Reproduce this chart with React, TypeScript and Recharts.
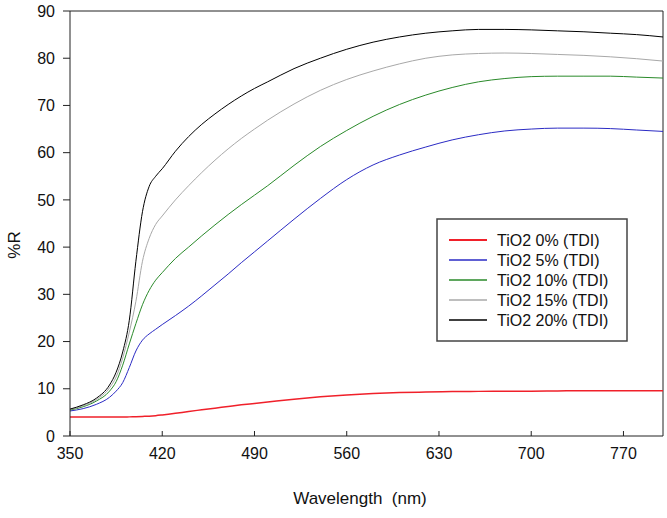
import React from "react";
import {
  LineChart,
  Line,
  XAxis,
  YAxis,
  ReferenceLine,
  Customized,
} from "recharts";

const wavelengths = [
  350, 360, 370, 380, 385, 390, 395, 400, 405, 410, 415, 420, 430, 440, 450,
  460, 470, 480, 490, 500, 520, 540, 560, 580, 600, 620, 640, 660, 680, 700,
  720, 740, 760, 780, 800,
];

const tio2_0 = [
  4.0, 4.0, 4.0, 4.0, 4.0, 4.0, 4.05, 4.1, 4.15, 4.2, 4.3, 4.45, 4.8, 5.2,
  5.55, 5.9, 6.25, 6.6, 6.9, 7.2, 7.8, 8.3, 8.7, 9.0, 9.2, 9.3, 9.4, 9.45, 9.5,
  9.5, 9.55, 9.6, 9.6, 9.6, 9.6,
];
const tio2_5 = [
  5.3, 5.8, 6.7, 8.2, 9.5, 11.3, 14.5, 18, 20.3, 21.6, 22.6, 23.6, 25.5, 27.5,
  29.7, 32, 34.3, 36.7, 39, 41.3, 45.9, 50.3, 54.3, 57.4, 59.5, 61.2, 62.7,
  63.8, 64.6, 65, 65.2, 65.2, 65.1, 64.8, 64.5,
];
const tio2_10 = [
  5.5, 6.2, 7.4, 9.5, 11.5, 15, 19.5, 23.8, 27.8, 30.8, 33, 34.6, 37.6, 40,
  42.4, 44.7, 46.9, 49, 51, 53, 57.3, 61.3, 64.7, 67.7, 70.2, 72.2, 73.8, 75,
  75.7, 76.1, 76.2, 76.2, 76.2, 76, 75.8,
];
const tio2_15 = [
  5.6, 6.4, 7.7, 10.2, 12.5, 16.5, 22, 28.5, 37, 41.8, 44.8, 46.6, 50, 53,
  55.8, 58.4, 60.8, 63, 65, 66.9, 70.3, 73.2, 75.5, 77.3, 78.8, 80, 80.7, 81,
  81.1, 81, 80.8, 80.6, 80.3, 79.9, 79.4,
];
const tio2_20 = [
  5.7, 6.6, 8, 10.8, 13.5, 17.8, 24.5, 37, 47.5, 52.8, 55, 56.6, 60.3, 63.4,
  66, 68.2, 70.2, 72, 73.6, 75, 77.8, 80, 81.9, 83.4, 84.5, 85.3, 85.8, 86.1,
  86.1, 86, 85.8, 85.6, 85.3, 85, 84.5,
];

const xTicks = [350, 420, 490, 560, 630, 700, 770];
const yTicks = [0, 10, 20, 30, 40, 50, 60, 70, 80, 90];

const series = [
  { key: "s0", name: "TiO2 0% (TDI)", color: "#f0202a", width: 1.5, values: tio2_0 },
  { key: "s5", name: "TiO2 5% (TDI)", color: "#2b2bc4", width: 1, values: tio2_5 },
  { key: "s10", name: "TiO2 10% (TDI)", color: "#2a8a2a", width: 1, values: tio2_10 },
  { key: "s15", name: "TiO2 15% (TDI)", color: "#a8a8a8", width: 1, values: tio2_15 },
  { key: "s20", name: "TiO2 20% (TDI)", color: "#000000", width: 1, values: tio2_20 },
];

const data = wavelengths.map((wl, i) => {
  const row: Record<string, number> = { wl };
  series.forEach((s) => {
    row[s.key] = s.values[i];
  });
  return row;
});

const font = "'Liberation Sans', Arial, sans-serif";

function Extras() {
  const lx = 437;
  const ly = 219;
  return (
    <g>
      <text
        x={14}
        y={245}
        transform="rotate(-90, 14, 245)"
        textAnchor="middle"
        dominantBaseline="central"
        fontFamily={font}
        fontSize={17}
        fill="#111"
      >
        %R
      </text>
      <text
        x={360}
        y={504}
        textAnchor="middle"
        fontFamily={font}
        fontSize={17}
        fill="#111"
        style={{ whiteSpace: "pre" }}
      >
        {"Wavelength  (nm)"}
      </text>
      <rect
        x={lx}
        y={ly}
        width={190}
        height={122}
        fill="#fff"
        stroke="#444"
        strokeWidth={1.5}
      />
      {series.map((s, i) => {
        const y = ly + 21 + i * 20;
        return (
          <g key={s.key}>
            <line
              x1={lx + 12}
              x2={lx + 50}
              y1={y}
              y2={y}
              stroke={s.color}
              strokeWidth={s.width + 0.3}
            />
            <text
              x={lx + 60}
              y={y}
              dominantBaseline="central"
              fontFamily={font}
              fontSize={16}
              fill="#111"
            >
              {s.name}
            </text>
          </g>
        );
      })}
    </g>
  );
}

export default function App() {
  return (
    <div style={{ position: "absolute", left: 0, top: 0, background: "#fff" }}>
      <LineChart
        width={667}
        height={518}
        data={data}
        margin={{ top: 11, right: 4, left: 0, bottom: 0 }}
      >
        <XAxis
          dataKey="wl"
          type="number"
          domain={[350, 800]}
          ticks={xTicks}
          height={82}
          tickSize={-5}
          tickMargin={17}
          stroke="#222"
          tick={{ fill: "#111", fontSize: 16, fontFamily: font }}
          allowDataOverflow
        />
        <YAxis
          type="number"
          domain={[0, 90]}
          ticks={yTicks}
          width={70}
          tickSize={7}
          tickMargin={8}
          stroke="#222"
          tick={{ fill: "#111", fontSize: 16, fontFamily: font }}
          allowDataOverflow
        />
        <ReferenceLine y={90} stroke="#222" />
        <ReferenceLine x={800} stroke="#222" />
        {series.map((s) => (
          <Line
            key={s.key}
            type="monotone"
            dataKey={s.key}
            name={s.name}
            stroke={s.color}
            strokeWidth={s.width}
            dot={false}
            isAnimationActive={false}
          />
        ))}
        <Customized component={Extras} />
      </LineChart>
    </div>
  );
}
